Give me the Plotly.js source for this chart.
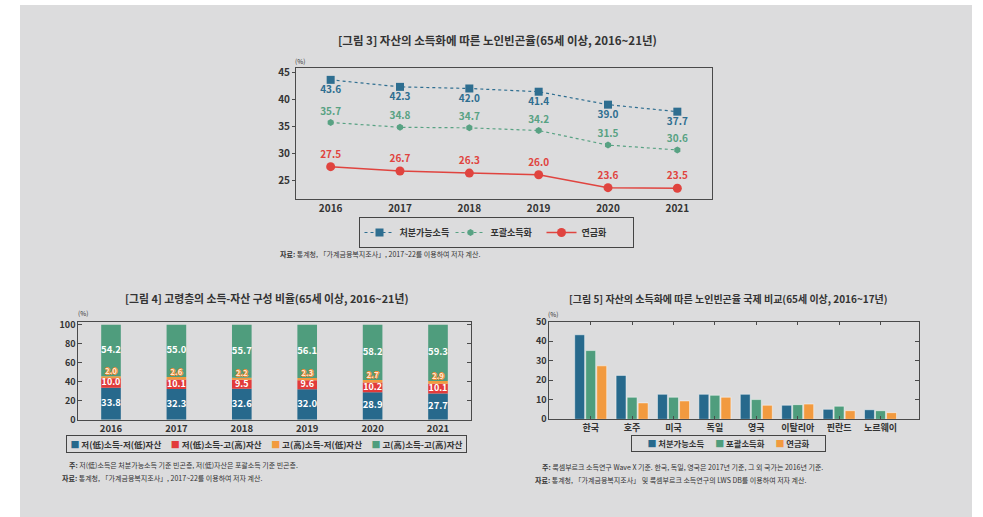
<!DOCTYPE html>
<html><head><meta charset="utf-8">
<script src="https://cdn.plot.ly/plotly-3.0.1.min.js"></script>
<style>html,body{margin:0;padding:0;background:#fff}</style>
</head><body><div id="chart" style="width:983px;height:517px"></div>
<script>
// ---- Figure 3 data ----
const years = ['2016','2017','2018','2019','2020','2021'];
const disposable = [43.6,42.3,42.0,41.4,39.0,37.7];
const comprehensive = [35.7,34.8,34.7,34.2,31.5,30.6];
const annuitized = [27.5,26.7,26.3,26.0,23.6,23.5];
const seriesNames3 = ['처분가능소득','포괄소득화','연금화'];

// ---- Figure 4 data ----
const lowIncLowAsset = [33.8,32.3,32.6,32.0,28.9,27.7];
const lowIncHighAsset = [10.0,10.1,9.5,9.6,10.2,10.1];
const highIncLowAsset = [2.0,2.6,2.2,2.3,2.7,2.9];
const highIncHighAsset = [54.2,55.0,55.7,56.1,58.2,59.3];
const seriesNames4 = ['저(低)소득-저(低)자산','저(低)소득-고(高)자산','고(高)소득-저(低)자산','고(高)소득-고(高)자산'];

// ---- Figure 5 data ----
const countries = ['한국','호주','미국','독일','영국','이탈리아','핀란드','노르웨이'];
const intlDisposable = [43.3,22.5,12.8,12.8,12.8,7.2,5.1,4.9];
const intlComprehensive = [35.2,11.3,11.3,12.3,10.1,7.5,6.7,4.4];
const intlAnnuitized = [27.4,8.4,9.4,11.3,7.2,7.8,4.4,3.4];

const FONT = '"Noto Sans CJK KR", "Noto Sans", sans-serif';
const BLUE = '#27698c', GREEN = '#4f9d7d', RED = '#e23b3b', ORANGE = '#f29a3f';
const colors4 = [BLUE, RED, ORANGE, GREEN];
const colors5 = [BLUE, GREEN, ORANGE];
const fmt = a => a.map(v => v.toFixed(1));

const base2 = lowIncLowAsset.map((v,i)=>v+lowIncHighAsset[i]);
const base3 = base2.map((v,i)=>v+highIncLowAsset[i]);
const mid = (base, vals) => vals.map((v,i)=>(base ? base[i] : 0) + v/2);

const segLabel = (y, vals, size) => ({x: years, y, type:'scatter', mode:'text', xaxis:'x2', yaxis:'y2',
  showlegend:false, hoverinfo:'skip', text: fmt(vals), textposition:'middle center',
  textfont:{color:'#ffffff', size, weight:700, family:FONT}});

const stackBar = (y, base, i) => ({x: years, y, base, name: seriesNames4[i], type:'bar', xaxis:'x2', yaxis:'y2',
  showlegend:false, offsetgroup:'s', width:0.3, marker:{color:colors4[i]}, textposition:'none'});

const intlBar = (y, i) => ({x: countries, y, name: seriesNames3[i], type:'bar', xaxis:'x3', yaxis:'y3',
  showlegend:false, marker:{color:colors5[i], line:{color:'rgba(255,255,255,0.6)', width:0.8}}});

const traces = [
  {x: years, y: disposable, name: seriesNames3[0], type:'scatter', mode:'lines+markers+text',
   xaxis:'x', yaxis:'y',
   line:{color:'#2e6e90', width:1.2, dash:'dot'}, marker:{symbol:'square', size:8, color:'#2e6e90'},
   text: fmt(disposable), textposition:'bottom center', textfont:{color:'#2e6e90', size:10, weight:700, family:FONT}},
  {x: years, y: comprehensive, name: seriesNames3[1], type:'scatter', mode:'lines+markers+text',
   xaxis:'x', yaxis:'y',
   line:{color:'#58a283', width:1.2, dash:'dot'}, marker:{symbol:'hexagon', size:7, color:'#58a283'},
   text: fmt(comprehensive), textposition:'top center', textfont:{color:'#58a283', size:10, weight:700, family:FONT}},
  {x: years, y: annuitized, name: seriesNames3[2], type:'scatter', mode:'lines+markers+text',
   xaxis:'x', yaxis:'y',
   line:{color:'#e0443f', width:1.5}, marker:{symbol:'circle', size:9, color:'#e0443f'},
   text: fmt(annuitized), textposition:'top center', textfont:{color:'#e0443f', size:10, weight:700, family:FONT}},

  stackBar(lowIncLowAsset, undefined, 0),
  stackBar(lowIncHighAsset, lowIncLowAsset, 1),
  stackBar(highIncLowAsset, base2, 2),
  stackBar(highIncHighAsset, base3, 3),
  segLabel(mid(null, lowIncLowAsset), lowIncLowAsset, 9.5),
  segLabel(mid(lowIncLowAsset, lowIncHighAsset), lowIncHighAsset, 9),
  segLabel(mid(base3, highIncHighAsset), highIncHighAsset, 9.5),
  {x: years, y: base3, type:'scatter', mode:'text', xaxis:'x2', yaxis:'y2', showlegend:false, hoverinfo:'skip',
   text: fmt(highIncLowAsset), textposition:'top center',
   textfont:{color:'#fde9d6', size:8, weight:700, family:FONT,
     shadow:'-1px 0 #ef8a33, 1px 0 #ef8a33, 0 1px #ef8a33, 0 -1px #ef8a33'}},

  intlBar(intlDisposable, 0),
  intlBar(intlComprehensive, 1),
  intlBar(intlAnnuitized, 2)
];

const tickF = (s) => ({family:FONT, size:s, color:'#333', weight:700});
const axLine = {showline:true, linecolor:'#4a4a4a', linewidth:1, showgrid:false, zeroline:false, fixedrange:true};

const pw = 983, ph = 517;
const X = p => p/pw, Y = p => 1 - p/ph;

const ann = (text, x, y, size, opts={}) => Object.assign({text, x:X(x), y:Y(y), xref:'paper', yref:'paper',
  showarrow:false, font:{family:FONT, size, color:'#333'}, xanchor:'center', yanchor:'middle'}, opts);

const NB = '\u00a0';
const keyText = (names, colors, gap) => names.map((n,i) =>
  `<span style="color:${colors[i]};font-size:9px">■</span>${NB}<b>${n}</b>`).join(NB.repeat(gap));

const layout = {
  width: 983, height: 517, autosize:false,
  margin:{l:0, r:0, t:0, b:0},
  paper_bgcolor:'#ffffff', plot_bgcolor:'rgba(0,0,0,0)',
  font:{family:FONT, color:'#333'},
  barmode:'group', bargap:0.2, bargroupgap:0.1,
  showlegend:true,
  shapes:[{type:'rect', xref:'paper', yref:'paper', x0:X(20), x1:X(972), y0:0, y1:Y(5),
    fillcolor:'#dcdcdd', line:{width:0}, layer:'below'}],
  xaxis: Object.assign({}, axLine, {domain:[X(296), X(712)], anchor:'y', type:'category', range:[-0.5,5.5],
    mirror:true, ticks:'', tickfont:tickF(10)}),
  yaxis: Object.assign({}, axLine, {domain:[Y(199), Y(68)], anchor:'x', range:[21.5,45.8],
    tickvals:[25,30,35,40,45], mirror:true, ticks:'outside', ticklen:3, tickcolor:'#4a4a4a', tickfont:tickF(10)}),
  xaxis2: Object.assign({}, axLine, {domain:[X(78.3), X(470.7)], anchor:'y2', type:'category', range:[-0.5,5.5],
    mirror:true, ticks:'', tickfont:tickF(9.5)}),
  yaxis2: Object.assign({}, axLine, {domain:[Y(419.7), Y(322)], anchor:'x2', range:[0,103],
    tickvals:[0,20,40,60,80,100], mirror:'ticks', ticks:'inside', ticklen:4, tickcolor:'#4a4a4a', tickfont:tickF(9)}),
  xaxis3: Object.assign({}, axLine, {domain:[X(549.3), X(919)], anchor:'y3', type:'category', range:[-1,7.93],
    mirror:'ticks', ticks:'inside', ticklen:3, tickcolor:'#4a4a4a', tickfont:tickF(9)}),
  yaxis3: Object.assign({}, axLine, {domain:[Y(419.3), Y(321.7)], anchor:'x3', range:[0,50],
    tickvals:[0,10,20,30,40,50], mirror:'ticks', ticks:'inside', ticklen:4, tickcolor:'#4a4a4a', tickfont:tickF(9)}),
  legend: {orientation:'h', xanchor:'center', yanchor:'top', x:X(496), y:Y(217), bgcolor:'rgba(0,0,0,0)',
    bordercolor:'#444', borderwidth:1, itemclick:false, entrywidthmode:'pixels', entrywidth:46, itemwidth:30,
    font:{family:FONT, size:9, color:'#333', weight:700}},
  annotations:[
    ann('<b>[그림 3] 자산의 소득화에 따른 노인빈곤율(65세 이상, 2016~21년)</b>', 497, 40, 11.5),
    ann('(%)', 300, 61, 6.5),
    ann('<b>자료:</b> 통계청, 「가계금융복지조사」, 2017~22를 이용하여 저자 계산.', 278, 253.7, 7, {xanchor:'left'}),
    ann('<b>[그림 4] 고령층의 소득-자산 구성 비율(65세 이상, 2016~21년)</b>', 266, 298, 10.8),
    ann('(%)', 83, 313, 6.5),
    ann(keyText(seriesNames4, colors4, 5), 266.5, 443.5, 8.5,
      {width:395, height:12, borderpad:2, bordercolor:'#444', borderwidth:1, align:'center'}),
    ann('<b>주:</b> 저(低)소득은 처분가능소득 기준 빈곤층, 저(低)자산은 포괄소득 기준 빈곤층.', 66.7, 465, 7, {xanchor:'left'}),
    ann('<b>자료:</b> 통계청, 「가계금융복지조사」, 2017~22를 이용하여 저자 계산.', 60, 478, 7, {xanchor:'left'}),
    ann('<b>[그림 5] 자산의 소득화에 따른 노인빈곤율 국제 비교(65세 이상, 2016~17년)</b>', 728, 298, 10),
    ann('(%)', 553, 314, 6.5),
    ann(keyText(seriesNames3, colors5, 6), 728.5, 443, 8.3,
      {width:189, height:11, borderpad:2, bordercolor:'#444', borderwidth:1, align:'center'}),
    ann('<b>주:</b> 룩셈부르크 소득연구 Wave X 기준. 한국, 독일, 영국은 2017년 기준, 그 외 국가는 2016년 기준.', 540, 467, 7, {xanchor:'left'}),
    ann('<b>자료:</b> 통계청, 「가계금융복지조사」 및 룩셈부르크 소득연구의 LWS DB를 이용하여 저자 계산.', 533.3, 480, 7, {xanchor:'left'})
  ]
};

Plotly.newPlot('chart', traces, layout, {displayModeBar:false, staticPlot:true});
</script>
</body></html>
